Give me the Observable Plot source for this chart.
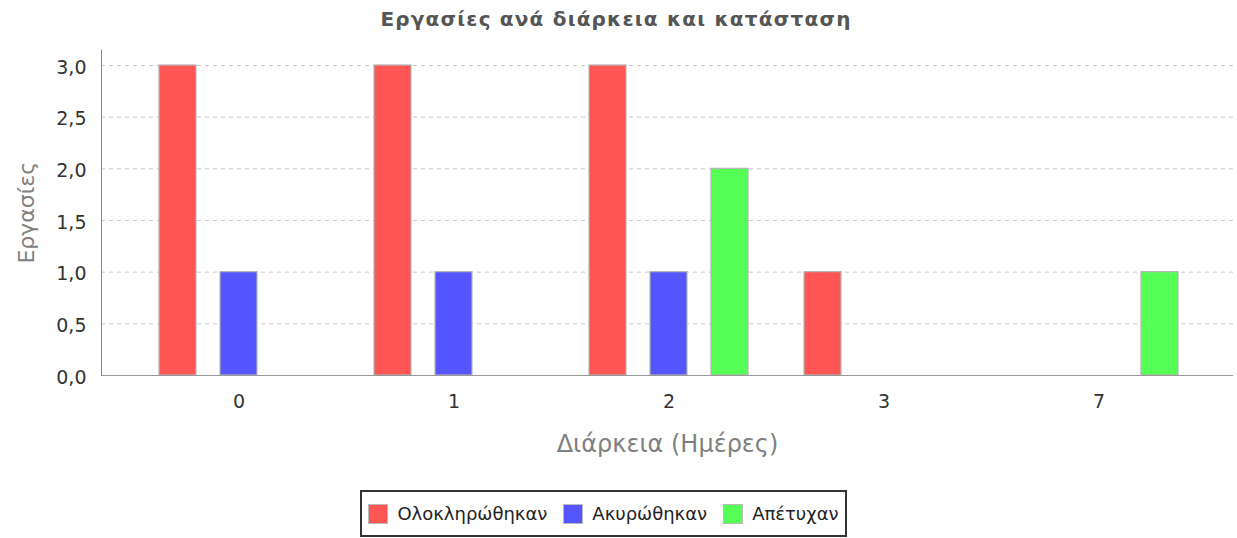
<!DOCTYPE html>
<html><head><meta charset="utf-8">
<script src="https://cdn.jsdelivr.net/npm/d3@7"></script>
<script src="https://cdn.jsdelivr.net/npm/@observablehq/plot@0.6"></script>
<style>
body{margin:0;background:#fff;font-family:"DejaVu Sans",sans-serif;}
#wrap{position:relative;width:1237px;height:538px;overflow:hidden;}
#title{position:absolute;top:7px;left:0;width:1232px;text-align:center;font-weight:bold;font-size:20px;letter-spacing:1.2px;color:#555;}
#chart{position:absolute;top:0;left:0;}
#legend{position:absolute;top:490px;left:360px;width:483px;height:43px;border:2px solid #333;display:flex;align-items:center;justify-content:center;gap:16px;font-size:18px;color:#222;background:#fff;}
.item{display:flex;align-items:center;gap:9px;}
.sw{width:18px;height:18px;border:1px solid #bbb;}
</style></head>
<body>
<div id="wrap">
  <div id="chart"></div>
  <div id="title">Εργασίες ανά διάρκεια και κατάσταση</div>
  <div id="legend"></div>
</div>
<script>
const durations = ["0", "1", "2", "3", "7"];
const statuses = ["Ολοκληρώθηκαν", "Ακυρώθηκαν", "Απέτυχαν"];
const completed = [3, 3, 3, 1, 0];
const cancelled = [1, 1, 1, 0, 0];
const failed = [0, 0, 2, 0, 1];
const colors = ["#FF5555", "#5555FF", "#55FF55"];
const yTicks = [0, 0.5, 1, 1.5, 2, 2.5, 3];
const yLabel = "Εργασίες";
const xLabel = "Διάρκεια (Ημέρες)";

const series = [completed, cancelled, failed];
const fmt = v => v.toFixed(1).replace(".", ",");

// bar step within a group (px) relative to the x band
const barStep = 61;
const barMarks = statuses.map((s, j) => {
  const rows = durations.map((d, i) => ({duration: d, status: s, value: series[j][i]})).filter(r => r.value > 0);
  return Plot.barY(rows, {x: "duration", y: "value", fill: "status", stroke: "#b4b4b4", strokeWidth: 1.2, dx: (j - 1) * barStep});
});

const chart = Plot.plot({
  width: 1237, height: 470,
  marginLeft: 101, marginRight: 4, marginTop: 49.5, marginBottom: 95,
  style: {fontFamily: "DejaVu Sans", fontSize: "19px", background: "transparent"},
  x: {domain: durations, paddingInner: 0.8285, paddingOuter: 0.539, align: 0.508},
  y: {domain: [0, 3.15]},
  color: {domain: statuses, range: colors},
  marks: [
    Plot.ruleY(yTicks, {stroke: "#c8c8c8", strokeDasharray: "4,4"}),
    ...barMarks,
    Plot.ruleY([0], {stroke: "#999"}),
    Plot.frame({anchor: "left", stroke: "#888"}),
    Plot.axisY({ticks: yTicks, tickFormat: fmt, tickSize: 0, tickPadding: 15, dy: 2, fontSize: 19, fill: "#333", label: null}),
    Plot.text([yLabel], {text: d => d, frameAnchor: "left", textAnchor: "middle", rotate: -90, dx: -75, fontSize: 22, fill: "#808080"}),
    Plot.text([xLabel], {text: d => d, frameAnchor: "bottom", dy: 76, fontSize: 24, fill: "#808080"}),
    Plot.axisX({tickSize: 0, tickPadding: 19, fontSize: 19, fill: "#333", label: null})
  ]
});
document.getElementById("chart").appendChild(chart);

const legend = document.getElementById("legend");
statuses.forEach((s, j) => {
  const it = document.createElement("div"); it.className = "item";
  const sw = document.createElement("div"); sw.className = "sw"; sw.style.background = colors[j];
  const t = document.createElement("span"); t.textContent = s;
  it.appendChild(sw); it.appendChild(t); legend.appendChild(it);
});
</script>
</body></html>
